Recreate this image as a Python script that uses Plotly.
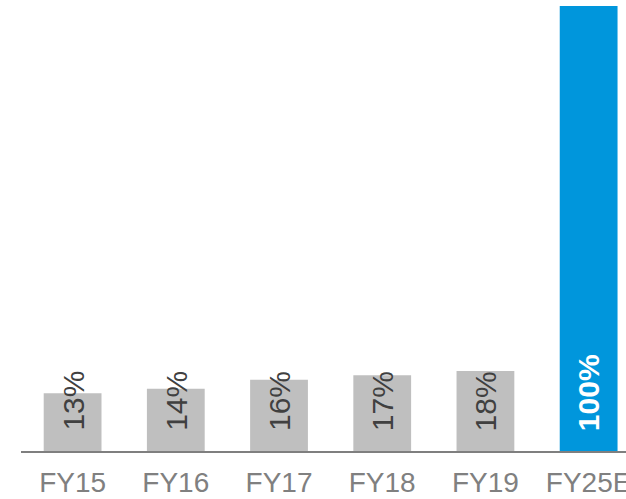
import plotly.graph_objects as go

categories = ["FY15", "FY16", "FY17", "FY18", "FY19", "FY25E"]
values = [13, 14, 16, 17, 18, 100]
labels = ["13%", "14%", "16%", "17%", "18%", "100%"]

bar_colors = ["#BFBFBF"] * 5 + ["#0096DC"]
font_family = "Arial, Liberation Sans, sans-serif"

fig = go.Figure()
fig.add_trace(go.Bar(
    x=categories, y=values, width=0.56,
    marker=dict(color=bar_colors, line=dict(width=0)),
    hoverinfo="skip",
))

for i, (c, v, t) in enumerate(zip(categories, values, labels)):
    is_last = i == len(categories) - 1
    fig.add_annotation(
        x=c, y=0, xref="x", yref="y", text=f"<b>{t}</b>" if is_last else t,
        textangle=-90, showarrow=False, yanchor="bottom", xanchor="center",
        yshift=18,
        font=dict(family=font_family, size=30, color="#FFFFFF" if is_last else "#404040"),
    )

fig.update_layout(
    width=626, height=499,
    margin=dict(l=21, r=0, t=0, b=48, autoexpand=False),
    plot_bgcolor="white", paper_bgcolor="white",
    showlegend=False,
    font=dict(family=font_family),
)
fig.update_xaxes(
    type="category", range=[-0.5, 5.362], automargin=False,
    showline=True, linecolor="#7F7F7F", linewidth=2,
    showgrid=False, zeroline=False,
    ticks="outside", ticklen=5, tickcolor="rgba(0,0,0,0)",
    tickfont=dict(family=font_family, size=28, color="#808080"),
)
fig.update_yaxes(
    range=[0, 101.35], visible=False, showgrid=False, zeroline=False, automargin=False,
)

fig.write_html(
    "out.html",
    config={"displayModeBar": False, "staticPlot": True},
    post_script="document.body.style.margin='0';document.body.style.overflow='hidden';",
)
